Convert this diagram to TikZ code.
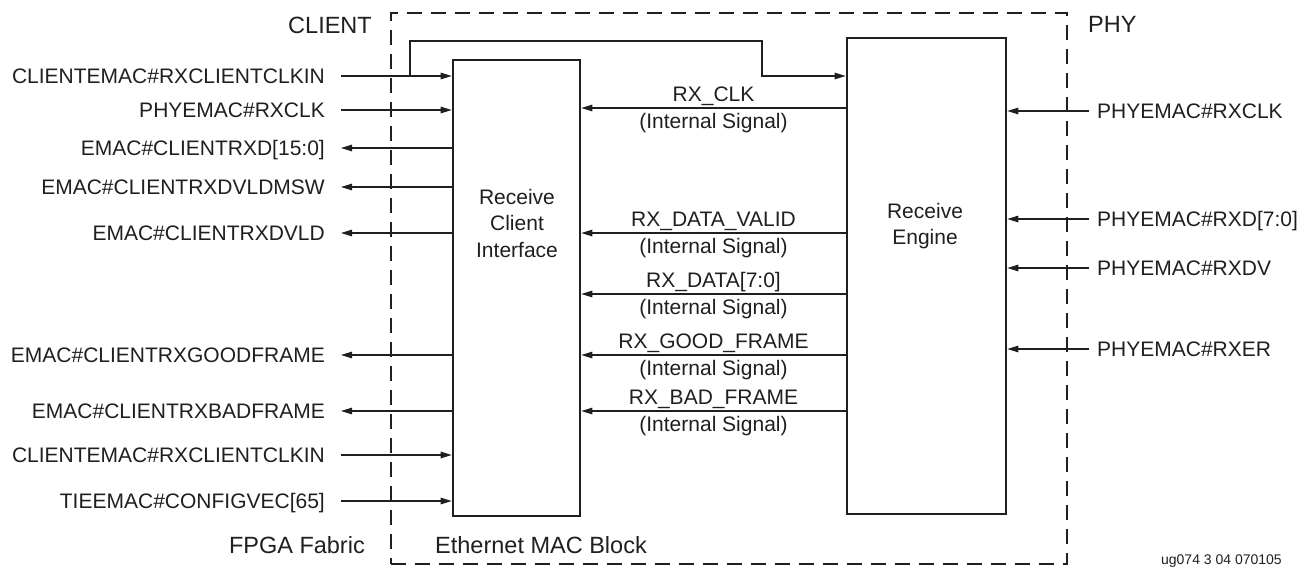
\documentclass[tikz,border=0pt]{standalone}
\usepackage{fontspec}
\setmainfont{Liberation Sans}
\usetikzlibrary{arrows.meta}
\definecolor{ink}{gray}{0.12}
\begin{document}
\begin{tikzpicture}[x=1pt,y=-1pt,
  sig/.style={draw=ink, line width=1.2pt, -{Triangle[length=11pt,width=6.5pt]}},
  wire/.style={draw=ink, line width=1.2pt},
  blk/.style={draw=ink, line width=2.6pt, inner sep=0pt},
  lab/.style={text=ink, font=\fontsize{21}{25}\selectfont, inner sep=0pt, text height=15pt, text depth=0pt},
  boxtxt/.style={text=ink, font=\fontsize{21}{26.5}\selectfont, inner sep=0pt, align=center},
  big/.style={text=ink, font=\fontsize{23.5}{28}\selectfont, inner sep=0pt},
  tiny/.style={text=ink, font=\fontsize{14}{16}\selectfont, inner sep=0pt},
  region/.style={draw=ink, line width=1.2pt, dash pattern=on 15pt off 9pt, inner sep=0pt}
]
\useasboundingbox (0,0) rectangle (1314,574);

% region and blocks
\node[region, minimum width=676pt, minimum height=551pt] (mac) at (729,288.5) {};
\node[blk, minimum width=127pt, minimum height=456pt] (rci) at (516.5,288) {};
\node[blk, minimum width=159pt, minimum height=476pt] (re) at (926.5,276) {};

\node[boxtxt] (rcit) at (517,223) {Receive\\Client\\Interface};
\node[boxtxt] (ret) at (925,226) {Receive\\Engine};

% region labels
\node[big, anchor=base east] (client) at (372,33) {CLIENT};
\node[big, anchor=base west] (phy) at (1088,32) {PHY};
\node[big, anchor=base east] (fpga) at (365,553) {FPGA Fabric};
\node[big, anchor=base west] (emacblk) at (435,553) {Ethernet MAC Block};
\node[tiny, anchor=base east] (figid) at (1282,564) {ug074 3 04 070105};

% left side signals
\node[lab, anchor=east] (l1) at (325,76) {CLIENTEMAC\#RXCLIENTCLKIN};
\node[lab, anchor=east] (l2) at (325,110) {PHYEMAC\#RXCLK};
\node[lab, anchor=east] (l3) at (325,148) {EMAC\#CLIENTRXD[15:0]};
\node[lab, anchor=east] (l4) at (325,187) {EMAC\#CLIENTRXDVLDMSW};
\node[lab, anchor=east] (l5) at (325,233) {EMAC\#CLIENTRXDVLD};
\node[lab, anchor=east] (l6) at (325,355) {EMAC\#CLIENTRXGOODFRAME};
\node[lab, anchor=east] (l7) at (325,411) {EMAC\#CLIENTRXBADFRAME};
\node[lab, anchor=east] (l8) at (325,455) {CLIENTEMAC\#RXCLIENTCLKIN};
\node[lab, anchor=east] (l9) at (325,501) {TIEEMAC\#CONFIGVEC[65]};

\draw[sig] ([xshift=16pt]l1.east) -- (l1.east -| rci.west);
\draw[sig] ([xshift=16pt]l2.east) -- (l2.east -| rci.west);
\draw[sig] (l3.east -| rci.west) -- ([xshift=16pt]l3.east);
\draw[sig] (l4.east -| rci.west) -- ([xshift=16pt]l4.east);
\draw[sig] (l5.east -| rci.west) -- ([xshift=16pt]l5.east);
\draw[sig] (l6.east -| rci.west) -- ([xshift=16pt]l6.east);
\draw[sig] (l7.east -| rci.west) -- ([xshift=16pt]l7.east);
\draw[sig] ([xshift=16pt]l8.east) -- (l8.east -| rci.west);
\draw[sig] ([xshift=16pt]l9.east) -- (l9.east -| rci.west);

% clock loop to the receive engine
\coordinate (tap) at (410,76);
\coordinate (bend) at (762,41);
\draw[sig] (tap) |- (bend) |- (re.west |- tap);

% right side signals
\node[lab, anchor=west] (r1) at (1097,111) {PHYEMAC\#RXCLK};
\node[lab, anchor=west] (r2) at (1097,219) {PHYEMAC\#RXD[7:0]};
\node[lab, anchor=west] (r3) at (1097,268) {PHYEMAC\#RXDV};
\node[lab, anchor=west] (r4) at (1097,349) {PHYEMAC\#RXER};
\draw[sig] ([xshift=-8pt]r1.west) -- (r1.west -| re.east);
\draw[sig] ([xshift=-8pt]r2.west) -- (r2.west -| re.east);
\draw[sig] ([xshift=-8pt]r3.west) -- (r3.west -| re.east);
\draw[sig] ([xshift=-8pt]r4.west) -- (r4.west -| re.east);

% internal signals
\coordinate (i1) at (0,108);
\coordinate (i2) at (0,233);
\coordinate (i3) at (0,294);
\coordinate (i4) at (0,355);
\coordinate (i5) at (0,411);
\draw[sig] (re.west |- i1) -- (rci.east |- i1)
  node[lab, midway, above=6pt] (n1a) {RX\_CLK}
  node[lab, midway, below=5pt] (n1b) {(Internal Signal)};
\draw[sig] (re.west |- i2) -- (rci.east |- i2)
  node[lab, midway, above=6pt] (n2a) {RX\_DATA\_VALID}
  node[lab, midway, below=5pt] (n2b) {(Internal Signal)};
\draw[sig] (re.west |- i3) -- (rci.east |- i3)
  node[lab, midway, above=6pt] (n3a) {RX\_DATA[7:0]}
  node[lab, midway, below=5pt] (n3b) {(Internal Signal)};
\draw[sig] (re.west |- i4) -- (rci.east |- i4)
  node[lab, midway, above=6pt] (n4a) {RX\_GOOD\_FRAME}
  node[lab, midway, below=5pt] (n4b) {(Internal Signal)};
\draw[sig] (re.west |- i5) -- (rci.east |- i5)
  node[lab, midway, above=6pt] (n5a) {RX\_BAD\_FRAME}
  node[lab, midway, below=5pt] (n5b) {(Internal Signal)};
\end{tikzpicture}
\end{document}
